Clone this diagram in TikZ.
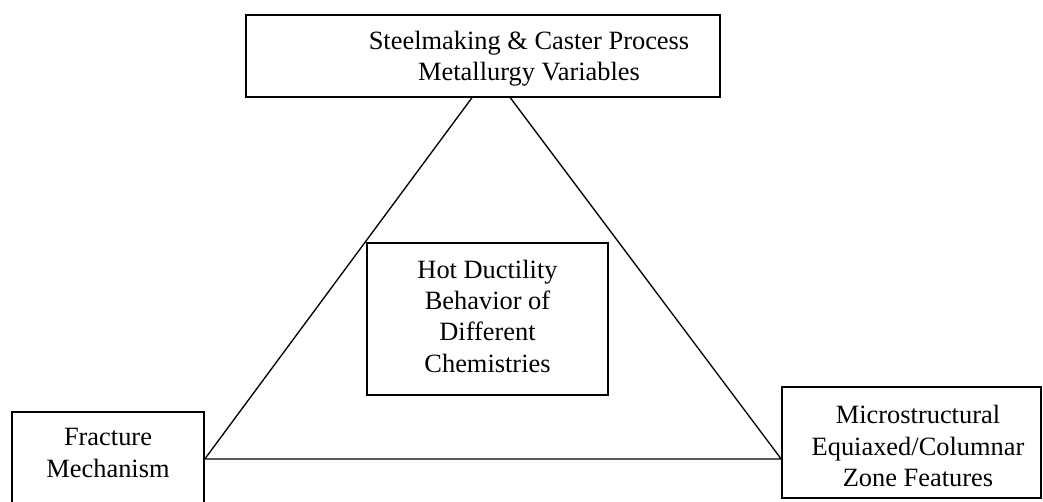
\documentclass[tikz,border=0pt]{standalone}
\usepackage{fontspec}
\setmainfont{Liberation Serif}
\usetikzlibrary{backgrounds}

\tikzset{every picture/.style={line width=0.75pt}}
\tikzset{
  boxnode/.style={draw, line width=1.2pt, fill=white, inner sep=0pt},
  labeltext/.style={inner sep=0.75pt, align=center, font=\fontsize{19.8}{23.5}\selectfont}
}

\begin{document}
\begin{tikzpicture}[x=0.75pt,y=0.75pt,yscale=-1,xscale=1]
\useasboundingbox (0,0) rectangle (1043,502);

%Rect: process variables
\node [boxnode, minimum width=355.5pt, minimum height=61.5pt] (process) at (483,56) {};
%Rect: hot ductility
\node [boxnode, minimum width=180.75pt, minimum height=114pt] (ductility) at (487.5,319) {};
%Rect: fracture
\node [boxnode, minimum width=144pt, minimum height=70.5pt] (fracture) at (108,459) {};
%Rect: microstructure
\node [boxnode, minimum width=194.25pt, minimum height=83.25pt] (micro) at (911.5,442.5) {};

%Triangle
\coordinate (apex) at (491,72);
\coordinate (rightcorner) at (micro.west |- fracture.east);
\begin{pgfonlayer}{background}
\draw [line width=1pt] (apex) -- (fracture.east) -- (rightcorner) -- cycle;
\end{pgfonlayer}

% Text Node
\node [labeltext] (processtext) at (529,59) {Steelmaking \& Caster Process\\Metallurgy Variables};
% Text Node
\node [labeltext] (ductilitytext) at (487.5,316) {Hot Ductility\\Behavior of\\Different\\Chemistries};
% Text Node
\node [labeltext] (fracturetext) at (108,453) {Fracture\\Mechanism};
% Text Node
\node [labeltext] (microtext) at (918,446) {Microstructural\\Equiaxed/Columnar\\Zone Features};

\end{tikzpicture}
\end{document}
